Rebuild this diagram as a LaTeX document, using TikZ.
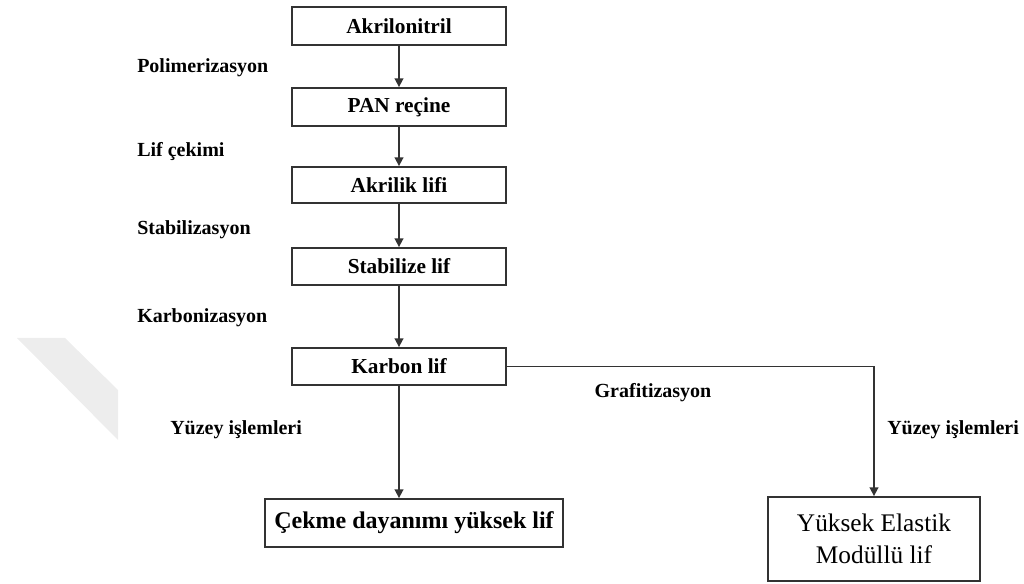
\documentclass[tikz,border=0pt]{standalone}
\usepackage{fontspec}
\setmainfont{Liberation Serif}
\usetikzlibrary{arrows.meta}
\tikzset{
  flowbox/.style={draw=black!80, line width=1.35pt, minimum width=160.5pt, inner sep=0pt, font=\fontsize{16}{18}\selectfont\bfseries},
  steplabel/.style={anchor=west, inner sep=0pt, font=\fontsize{15}{17}\selectfont\bfseries},
  flowarrow/.style={draw=black!80, line width=1.2pt, -{Triangle[width=6.5pt,length=6.5pt]}},
  bigbox/.style={draw=black!80, line width=1.35pt, inner sep=0pt, align=center}
}
\begin{document}
\begin{tikzpicture}[x=0.75pt,y=-0.75pt]
\useasboundingbox (0,0) rectangle (1024,584);
% faint watermark
\fill[black!7] (17,338) -- (65,338) -- (118,390) -- (118,440) -- cycle;

\node[flowbox, minimum height=28.5pt] (akn) at (399,26) {Akrilonitril};
\node[flowbox, minimum height=28.5pt] (pan) at (399,107) {PAN reçine};
\node[flowbox, minimum height=27pt] (akl) at (399,185) {Akrilik lifi};
\node[flowbox, minimum height=27.75pt] (stb) at (399,266.5) {Stabilize lif};
\node[flowbox, minimum height=27.75pt] (krb) at (399,366.5) {Karbon lif};
\node[bigbox, minimum width=223.5pt, minimum height=36pt, font=\fontsize{18}{21}\selectfont\bfseries] (cek) at (414,523) {Çekme dayanımı yüksek lif};
\node[bigbox, minimum width=159pt, minimum height=63pt, font=\fontsize{19}{24}\selectfont] (yem) at (874,539) {Yüksek Elastik\\Modüllü lif};

\node[steplabel] (l1) at (137,68) {Polimerizasyon};
\node[steplabel] (l2) at (137,152) {Lif çekimi};
\node[steplabel] (l3) at (137,230) {Stabilizasyon};
\node[steplabel] (l4) at (137,318) {Karbonizasyon};
\node[steplabel] (l5) at (170,430) {Yüzey işlemleri};
\node[steplabel, anchor=center] (l6) at (653,393) {Grafitizasyon};
\node[steplabel] (l7) at (887,430) {Yüzey işlemleri};

\draw[flowarrow] (akn) -- (pan);
\draw[flowarrow] (pan) -- (akl);
\draw[flowarrow] (akl) -- (stb);
\draw[flowarrow] (stb) -- (krb);
\draw[flowarrow] (krb) -- (krb |- cek.north);
\draw[flowarrow] (krb.east) -| (yem.north);
\end{tikzpicture}
\end{document}
